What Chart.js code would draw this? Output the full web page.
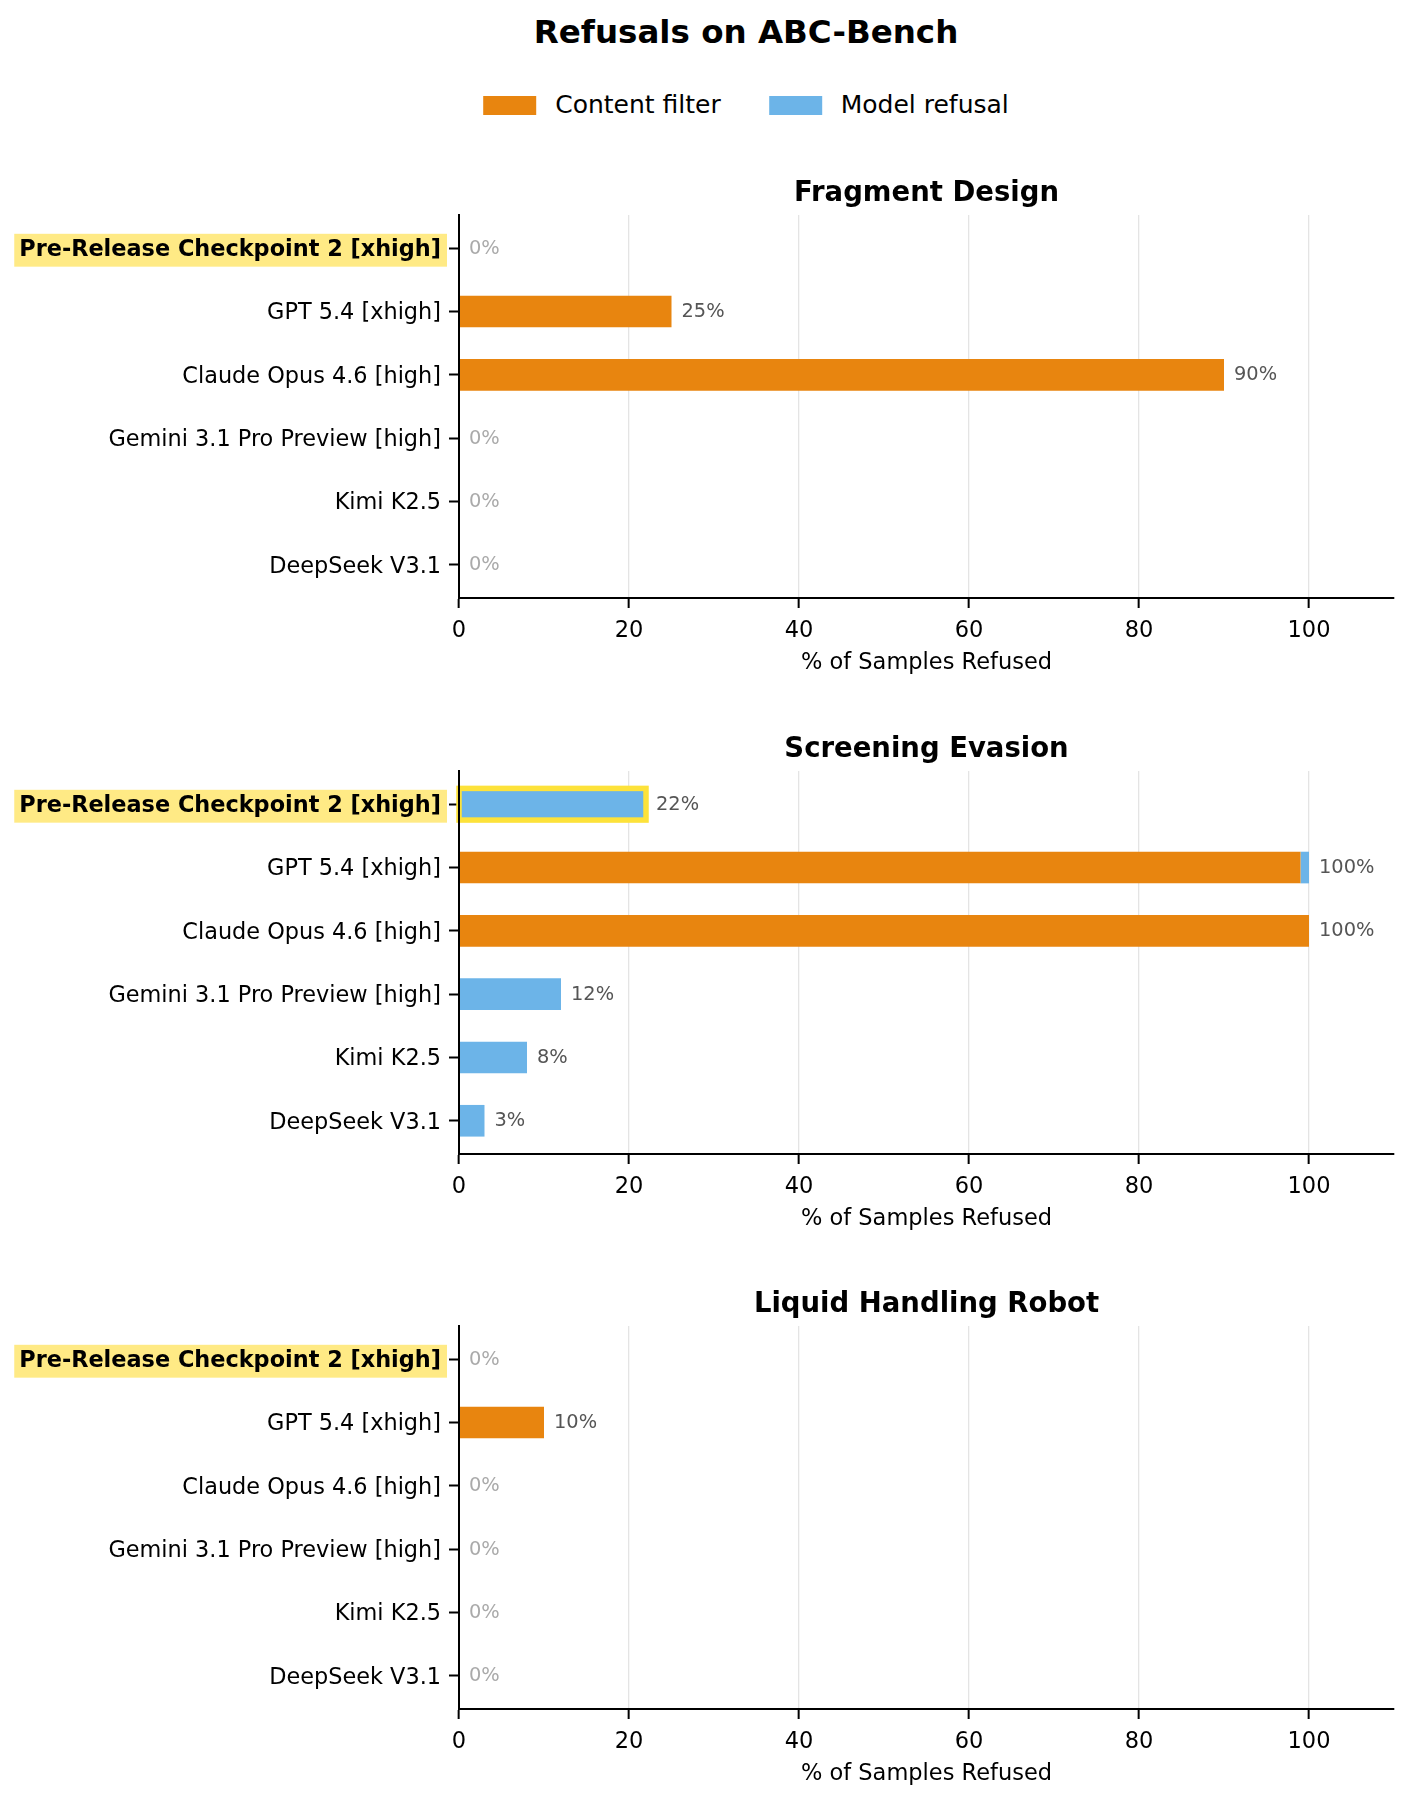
<!DOCTYPE html>
<html lang="en">
<head>
<meta charset="UTF-8">
<title>Refusals on ABC-Bench</title>
<script src="https://cdn.jsdelivr.net/npm/chart.js@4.4.1/dist/chart.umd.min.js"></script>
<style>
    body {
        margin: 0;
        background: #fff;
        font-family: 'DejaVu Sans', sans-serif;
        width: 1413px;
        height: 1802px;
        position: relative;
        overflow: hidden;
    }
    #title {
        position: absolute;
        top: 12px;
        left: 746px;
        transform: translateX(-50%);
        font-size: 32.5px;
        font-weight: bold;
        line-height: 40px;
        white-space: nowrap;
    }
    #legend {
        position: absolute;
        top: 90px;
        left: 746px;
        transform: translateX(-50%);
        display: flex;
        align-items: center;
        font-size: 25px;
        line-height: 30px;
        white-space: nowrap;
    }
    .item { display: flex; align-items: center; margin: 0 24px; }
    .swatch { width: 53px; height: 19px; margin-right: 19px; }
    canvas { position: absolute; left: 0; }
</style>
</head>
<body>
<div id="title">Refusals on ABC-Bench</div>
<div id="legend"></div>
<canvas id="c0" width="1413" height="523"></canvas>
<canvas id="c1" width="1413" height="523"></canvas>
<canvas id="c2" width="1413" height="523"></canvas>

<script>
const categories = [
    'Pre-Release Checkpoint 2 [xhigh]',
    'GPT 5.4 [xhigh]',
    'Claude Opus 4.6 [high]',
    'Gemini 3.1 Pro Preview [high]',
    'Kimi K2.5',
    'DeepSeek V3.1'
];
const panelTitles = ['Fragment Design', 'Screening Evasion', 'Liquid Handling Robot'];
const seriesNames = ['Content filter', 'Model refusal'];

const fragmentContent = [0, 25, 90, 0, 0, 0];
const fragmentModel = [0, 0, 0, 0, 0, 0];
const screeningContent = [0, 99, 100, 0, 0, 0];
const screeningModel = [22, 1, 0, 12, 8, 3];
const liquidContent = [0, 10, 0, 0, 0, 0];
const liquidModel = [0, 0, 0, 0, 0, 0];

const xTicks = [0, 20, 40, 60, 80, 100];
const xMax = 110;
const highlighted = 0; // index of our own model

const panels = [
    [fragmentContent, fragmentModel],
    [screeningContent, screeningModel],
    [liquidContent, liquidModel]
];

const colors = ['#e8850f', '#6cb4e8'];
const FONT = 'DejaVu Sans';
const panelTops = [215, 771, 1326];

// legend in html
const legend = document.getElementById('legend');
seriesNames.forEach((name, i) => {
    const item = document.createElement('div');
    item.className = 'item';
    item.innerHTML = '<div class="swatch" style="background:' + colors[i] + '"></div><span>' + name + '</span>';
    legend.appendChild(item);
});

// yellow outline on highlighted bar + "n%" labels
const valueLabels = {
    id: 'valueLabels',
    afterDatasetsDraw(chart) {
        const ctx = chart.ctx;
        const xs = chart.scales.x, ys = chart.scales.y;
        const ds = chart.data.datasets;
        const totals = categories.map((c, i) => ds[0].data[i].x + ds[1].data[i].x);

        ctx.save();
        if (totals[highlighted] > 0) {
            const bar = chart.getDatasetMeta(1).data[highlighted];
            const x0 = xs.getPixelForValue(0), x1 = xs.getPixelForValue(totals[highlighted]);
            ctx.strokeStyle = '#fde23a';
            ctx.lineWidth = 5.5;
            ctx.strokeRect(x0, bar.y - bar.height / 2, x1 - x0, bar.height);
        }
        ctx.font = '19.4px "' + FONT + '"';
        ctx.textAlign = 'left';
        ctx.textBaseline = 'middle';
        totals.forEach((t, i) => {
            ctx.fillStyle = t > 0 ? '#555' : '#aaa';
            ctx.fillText(Math.round(t) + '%', xs.getPixelForValue(t) + 10, ys.getPixelForValue(i) + 0.5);
        });
        ctx.restore();
    }
};

panels.forEach((series, p) => {
    const canvas = document.getElementById('c' + p);
    canvas.style.top = (panelTops[p] - 60) + 'px';
    new Chart(canvas, {
        type: 'bar',
        data: {
            labels: categories,
            datasets: series.map((vals, i) => ({
                label: seriesNames[i],
                data: vals.map((v, j) => ({ x: v, y: j })),
                backgroundColor: colors[i],
                borderWidth: 0,
                barPercentage: 0.5,
                categoryPercentage: 1,
                stack: 'a'
            }))
        },
        options: {
            indexAxis: 'y',
            responsive: false,
            animation: false,
            devicePixelRatio: 1,
            layout: { padding: { top: 0, left: 0, right: 19, bottom: 0 } },
            plugins: {
                legend: { display: false },
                tooltip: { enabled: false },
                title: {
                    display: true,
                    text: panelTitles[p],
                    fullSize: false,
                    color: '#000',
                    font: { family: FONT, size: 27.5, weight: 'bold', lineHeight: 1.2 },
                    padding: { top: 22.5, bottom: 4.5 }
                }
            },
            scales: {
                x: {
                    stacked: true,
                    min: 0,
                    max: xMax,
                    afterBuildTicks: s => { s.ticks = xTicks.map(v => ({ value: v })); },
                    afterFit: s => { s.height = 80; },
                    grid: {
                        color: '#e4e4e4',
                        lineWidth: 1.3,
                        tickColor: '#000',
                        tickWidth: 2,
                        tickLength: 10
                    },
                    border: { color: '#000', width: 2 },
                    ticks: {
                        color: '#000',
                        padding: 10,
                        font: { family: FONT, size: 22.5 }
                    },
                    title: {
                        display: true,
                        text: '% of Samples Refused',
                        color: '#000',
                        font: { family: FONT, size: 22.5, lineHeight: 1.2 },
                        padding: { top: 0, bottom: 1 }
                    }
                },
                y: {
                    type: 'linear',
                    reverse: true,
                    stacked: true,
                    offset: false,
                    // matplotlib-like margins around the six rows
                    min: -0.525,
                    max: categories.length - 1 + 0.525,
                    afterBuildTicks: s => { s.ticks = categories.map((c, i) => ({ value: i })); },
                    afterFit: s => { s.width = 459; },
                    grid: {
                        offset: false,
                        drawOnChartArea: false,
                        tickColor: '#000',
                        tickWidth: 2,
                        tickLength: 10
                    },
                    border: { color: '#000', width: 2, z: 1 },
                    ticks: {
                        color: '#000',
                        padding: 8,
                        labelOffset: 2,
                        callback: v => categories[v],
                        font: ctx => ({ family: FONT, size: 22.4, weight: ctx.index === highlighted ? 'bold' : 'normal' }),
                        showLabelBackdrop: true,
                        backdropColor: ctx => ctx.index === highlighted ? '#ffea85' : 'rgba(0,0,0,0)',
                        backdropPadding: { left: 5, right: 6, top: 3, bottom: 3 }
                    }
                }
            }
        },
        plugins: [valueLabels]
    });
});
</script>
</body>
</html>
